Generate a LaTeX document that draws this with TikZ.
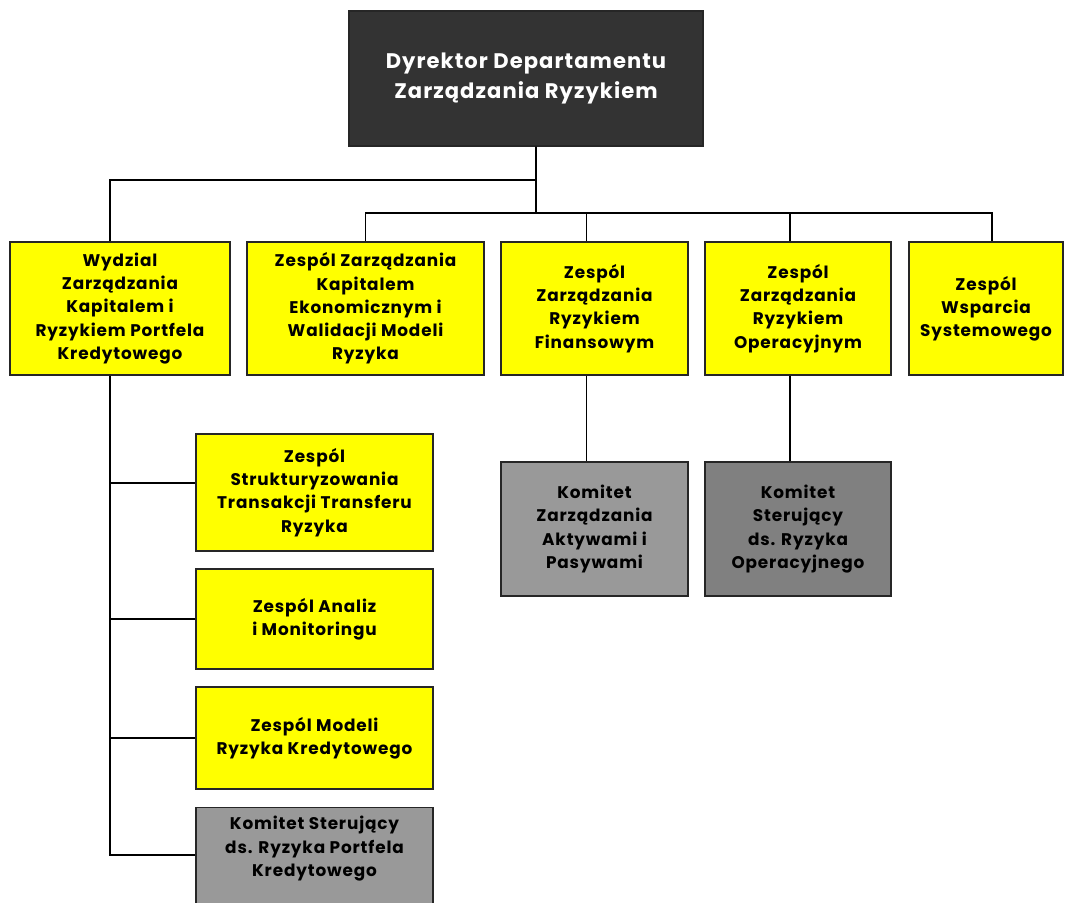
\documentclass[tikz,border=0pt]{standalone}
\usepackage{fontspec}
\setmainfont{Poppins}[LetterSpace=5.0]
\usepackage{tikz}

\definecolor{dirgray}{HTML}{333333}
\definecolor{boxyellow}{HTML}{FFFF00}
\definecolor{komlight}{HTML}{999999}
\definecolor{komdark}{HTML}{808080}

\tikzset{
  unit/.style={draw=black!85, line width=0.9pt, align=center, inner sep=0pt,
    font=\bfseries\fontsize{12}{16.5}\selectfont},
  yellowbox/.style={unit, fill=boxyellow, text=black},
  graybox/.style={unit, fill=#1, text=black},
  headbox/.style={unit, fill=dirgray, text=white,
    font=\bfseries\fontsize{15}{21}\selectfont},
  link/.style={line width=1.4pt, black}
}

\begin{document}
\begin{tikzpicture}

\useasboundingbox (0,0) rectangle (26.625,22.55);
\clip (0,0) rectangle (26.625,22.55);

% Director
\node[headbox, minimum width=8.85cm, minimum height=3.375cm] (dir) at (13.15, 20.5875)
  {Dyrektor Departamentu\\Zarządzania Ryzykiem};

% Second level
\node[yellowbox, minimum width=5.5cm, minimum height=3.325cm] (wydz) at (3.0, 14.8375)
  {Wydzial\\Zarządzania\\Kapitalem i\\Ryzykiem Portfela\\Kredytowego};
\node[yellowbox, minimum width=5.925cm, minimum height=3.325cm] (kap) at (9.1375, 14.8375)
  {Zespól Zarządzania\\Kapitalem\\Ekonomicznym i\\Walidacji Modeli\\Ryzyka};
\node[yellowbox, minimum width=4.675cm, minimum height=3.325cm] (fin) at (14.8625, 14.8375)
  {Zespól\\Zarządzania\\Ryzykiem\\Finansowym};
\node[yellowbox, minimum width=4.65cm, minimum height=3.325cm] (ope) at (19.95, 14.8375)
  {Zespól\\Zarządzania\\Ryzykiem\\Operacyjnym};
\node[yellowbox, minimum width=3.85cm, minimum height=3.325cm] (wsp) at (24.65, 14.8375)
  {Zespól\\Wsparcia\\Systemowego};

% Committees
\node[graybox=komlight, minimum width=4.675cm, minimum height=3.35cm] (kzap) at (14.8625, 9.325)
  {Komitet\\Zarządzania\\Aktywami i\\Pasywami};
\node[graybox=komdark, minimum width=4.65cm, minimum height=3.35cm] (kope) at (19.95, 9.325)
  {Komitet\\Sterujący\\ds. Ryzyka\\Operacyjnego};

% Teams under the department
\node[yellowbox, minimum width=5.925cm, minimum height=2.925cm] (trans) at (7.8625, 10.2375)
  {Zespól\\Strukturyzowania\\Transakcji Transferu\\Ryzyka};
\node[yellowbox, minimum width=5.925cm, minimum height=2.5cm] (anal) at (7.8625, 7.075)
  {Zespól Analiz\\i Monitoringu};
\node[yellowbox, minimum width=5.925cm, minimum height=2.55cm] (mod) at (7.8625, 4.1)
  {Zespól Modeli\\Ryzyka Kredytowego};
\node[graybox=komlight, minimum width=5.925cm, inner ysep=0.22cm, text depth=2cm,
  anchor=north] (kpk) at (7.8625, 2.375)
  {Komitet Sterujący\\ds. Ryzyka Portfela\\Kredytowego};

% Connectors
\coordinate (bus1) at (13.4, 18.05);
\coordinate (bus2) at (13.4, 17.225);
\coordinate (trunk) at ([xshift=-0.25cm]wydz.south);
\draw[link] ([xshift=0.25cm]dir.south) -- (bus2);
\draw[link] (bus1) -| ([xshift=-0.25cm]wydz.north);
\draw[link] (kap.north) |- (bus2) -| ([xshift=0.15cm]wsp.north);
\foreach \n in {fin, ope}
  \draw[link] ([xshift=-0.2cm]\n.north) -- ([xshift=-0.2cm]\n.north |- bus2);
\foreach \n/\m in {fin/kzap, ope/kope}
  \draw[link] ([xshift=-0.2cm]\n.south) -- ([xshift=-0.2cm]\m.north);

\draw[link] (trunk) |- ([yshift=-1.2cm]kpk.north west);
\foreach \n/\dy in {trans/0.24, anal/0, mod/0}
  \draw[link] ([yshift=\dy cm]\n.west) -- ([yshift=\dy cm]\n.west -| trunk);

\end{tikzpicture}
\end{document}
